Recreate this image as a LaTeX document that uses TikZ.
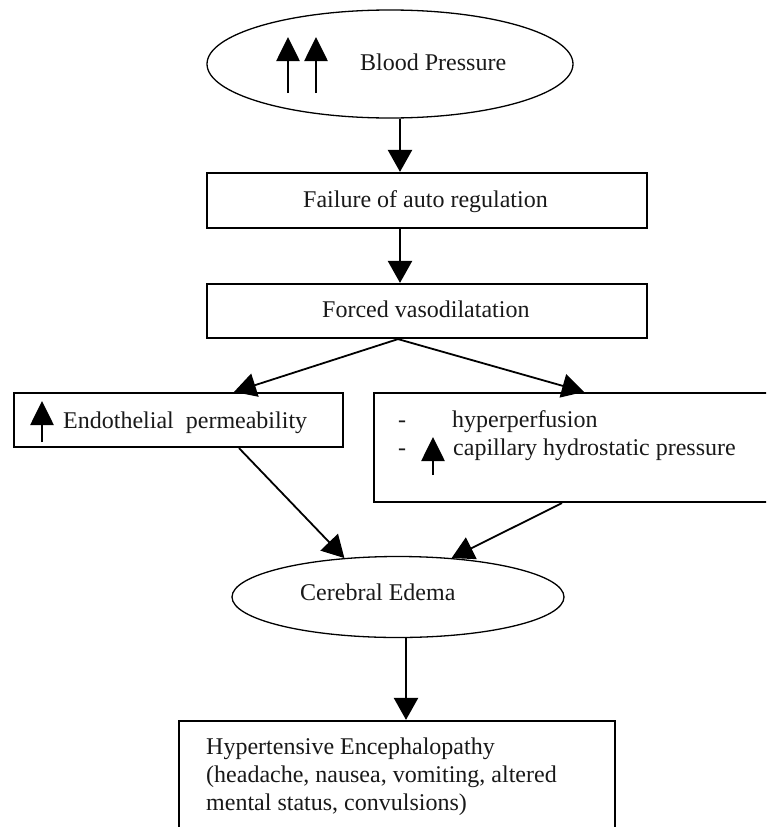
\documentclass[tikz,border=0pt]{standalone}
\usepackage{fontspec}
\setmainfont{Liberation Serif}
\usetikzlibrary{arrows.meta,shapes.geometric}
\tikzset{
  boxnode/.style={draw, line width=2.2pt, rectangle, inner sep=0pt},
  ovalnode/.style={draw, ellipse, line width=1.3pt, inner sep=0pt},
  txt/.style={inner sep=0pt, anchor=base west, font=\fontsize{24}{28}\selectfont, text=black!90},
  flow/.style={line width=2.4pt, -{Triangle[width=24pt,length=22pt]}},
  diag/.style={line width=1.8pt, -{Triangle[width=24pt,length=22pt]}},
  uparr/.style={line width=2.7pt, -{Triangle[width=23pt,length=24pt]}},
}
\begin{document}
\begin{tikzpicture}[x=1pt,y=-1pt]
\useasboundingbox (0,0) rectangle (766,827);
\clip (0,0) rectangle (766,827);
\fill[white] (0,0) rectangle (766,827);

% nodes
\node[ovalnode, minimum width=366pt, minimum height=108pt] (bp) at (390,64) {};
\node[txt] (bpt) at (360,70) {Blood Pressure};
\draw[uparr] (288,93) -- (288,37);
\draw[uparr] (316,93) -- (316,37);

\node[boxnode, minimum width=440pt, minimum height=55pt] (fa) at (427,200.5) {};
\node[txt] (fat) at (303,207) {Failure of auto regulation};

\node[boxnode, minimum width=440pt, minimum height=54pt] (fv) at (427,311) {};
\node[txt] (fvt) at (322,317) {Forced vasodilatation};

\node[boxnode, minimum width=329pt, minimum height=54pt] (ep) at (178.5,420) {};
\node[txt] (ept) at (63,428) {Endothelial\ \ permeability};
\draw[uparr] (42,442) -- (42,401);

\node[boxnode, minimum width=416pt, minimum height=109pt] (hp) at (582,447.5) {};
\node[txt] (hd1) at (398,427) {-};
\node[txt] (hpt1) at (452,427) {hyperperfusion};
\node[txt] (hd2) at (398,455) {-};
\node[txt] (hpt2) at (453,455) {capillary hydrostatic pressure};
\draw[uparr] (433,475) -- (433,437);

\node[ovalnode, minimum width=332pt, minimum height=81pt] (ce) at (398,597) {};
\node[txt] (cet) at (300,600) {Cerebral Edema};

\node[boxnode, minimum width=436pt, minimum height=129pt] (he) at (397,785.5) {};
\node[inner sep=0pt, anchor=north west, align=left, font=\fontsize{24}{28}\selectfont, text=black!90] (het) at (206,737.6)
  {Hypertensive Encephalopathy\\(headache, nausea, vomiting, altered\\mental status, convulsions)};

% connectors
\draw[flow] ([xshift=10pt]bp.south) -- ([xshift=-27pt]fa.north);
\draw[flow] ([xshift=-27pt]fa.south) -- ([xshift=-27pt]fv.north);
\draw[diag] ([xshift=-29pt]fv.south) -- ([xshift=55.5pt]ep.north);
\draw[diag] ([xshift=-29pt]fv.south) -- ([xshift=2pt]hp.north);
\draw[diag] ([xshift=60.5pt]ep.south) -- (ce.144);
\draw[diag] ([xshift=-20pt]hp.south) -- (ce.36);
\draw[flow] ([xshift=8pt]ce.south) -- ([xshift=9pt]he.north);
\end{tikzpicture}
\end{document}
